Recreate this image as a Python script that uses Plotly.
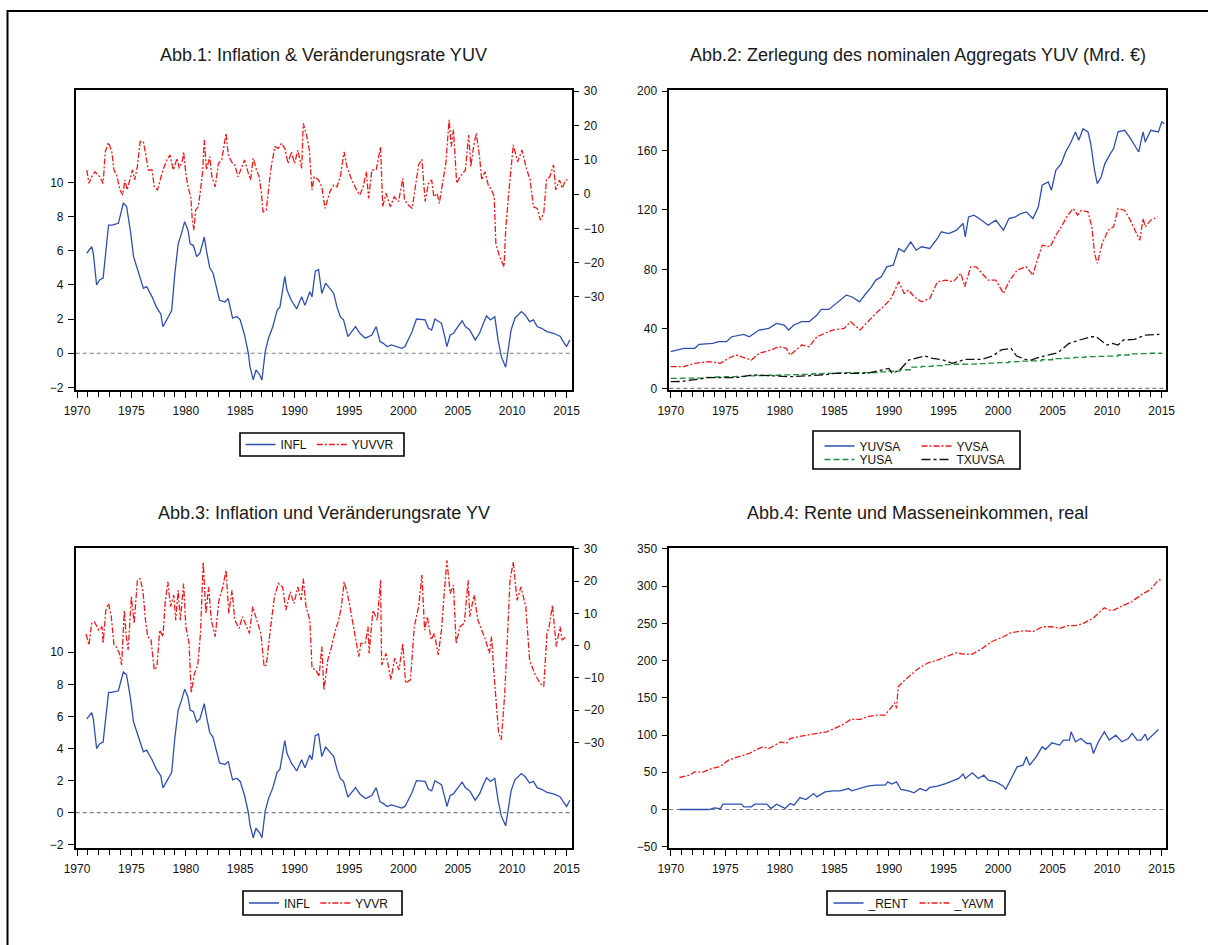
import plotly.graph_objects as go

# ---------------- data ----------------
infl_t = [1970.9, 1971.35, 1971.5, 1971.8, 1972.1, 1972.4, 1972.9, 1973.2, 1973.8, 1974.26,
          1974.55, 1974.9, 1975.2, 1975.6, 1976.1, 1976.4, 1976.9, 1977.3, 1977.7, 1977.9,
          1978.4, 1978.7, 1979.0, 1979.3, 1979.6, 1979.9, 1980.2, 1980.4, 1980.7, 1981.0,
          1981.3, 1981.7, 1981.9, 1982.2, 1982.5, 1982.8, 1983.1, 1983.6, 1983.9, 1984.3,
          1984.7, 1985.0, 1985.4, 1985.75, 1985.9, 1986.2, 1986.45, 1986.8, 1987.0, 1987.3,
          1987.6, 1988.0, 1988.4, 1988.65, 1989.1, 1989.3, 1989.7, 1990.2, 1990.65, 1990.95,
          1991.4, 1991.6, 1991.9, 1992.2, 1992.5, 1992.85, 1993.25, 1993.6, 1993.9, 1994.2,
          1994.5, 1994.9, 1995.25, 1995.6, 1996.0, 1996.5, 1996.8, 1997.1, 1997.5, 1997.85,
          1998.15, 1998.5, 1998.9, 1999.4, 1999.85, 2000.15, 2000.45, 2000.8, 2001.2, 2001.7,
          2002.0, 2002.3, 2002.6, 2002.9, 2003.2, 2003.5, 2003.8, 2004.0, 2004.3, 2004.6,
          2004.9, 2005.4, 2005.7, 2006.1, 2006.6, 2007.0, 2007.35, 2007.65, 2008.0, 2008.4,
          2008.7, 2009.0, 2009.4, 2009.6, 2009.9, 2010.25, 2010.55, 2010.85, 2011.2, 2011.6,
          2011.95, 2012.3, 2012.7, 2013.2, 2013.8, 2014.4, 2014.7, 2015.0, 2015.3]
infl_v = [5.85, 6.24, 5.85, 4.0, 4.3, 4.4, 7.5, 7.5, 7.6, 8.77,
          8.6, 7.2, 5.65, 4.8, 3.8, 3.9, 3.3, 2.7, 2.3, 1.55,
          2.15, 2.5, 4.7, 6.4, 7.0, 7.7, 7.2, 6.4, 6.3, 5.65,
          5.85, 6.8, 6.0, 5.0, 4.7, 3.9, 3.1, 3.0, 3.2, 2.05,
          2.15, 1.95, 1.07, 0.0, -0.78, -1.56, -0.97, -1.27, -1.56, 0.1,
          0.88, 1.56, 2.53, 2.7, 4.5, 3.7, 3.1, 2.6, 3.3, 2.8,
          3.6, 3.3, 4.8, 4.9, 3.5, 4.1, 3.8, 3.5, 2.7, 2.14,
          1.95, 0.97, 1.27, 1.56, 1.17, 0.88, 0.97, 1.07, 1.56, 0.68,
          0.58, 0.39, 0.49, 0.39, 0.29, 0.39, 0.78, 1.27, 2.0, 1.95,
          1.95, 1.46, 1.36, 2.0, 1.85, 1.75, 0.97, 0.39, 1.07, 1.17,
          1.46, 1.9, 1.56, 1.36, 0.78, 1.17, 1.75, 2.18, 1.95, 2.14,
          0.78, -0.2, -0.82, 0.0, 1.36, 2.05, 2.24, 2.44, 2.24, 1.85,
          1.95, 1.56, 1.46, 1.27, 1.17, 1.0, 0.68, 0.39, 0.78]

yuvvr_t = [1970.9, 1971.1, 1971.35, 1971.65, 1972.1, 1972.4, 1972.6, 1972.9, 1973.2, 1973.4,
           1973.65, 1973.95, 1974.2, 1974.4, 1974.6, 1974.9, 1975.1, 1975.3, 1975.55, 1975.8,
           1976.1, 1976.35, 1976.55, 1976.9, 1977.1, 1977.4, 1977.7, 1977.9, 1978.25, 1978.55,
           1978.85, 1979.2, 1979.4, 1979.7, 1979.8, 1980.0, 1980.2, 1980.45, 1980.6, 1980.75,
           1980.9, 1981.15, 1981.35, 1981.55, 1981.7, 1981.9, 1982.2, 1982.4, 1982.7, 1983.0,
           1983.3, 1983.5, 1983.7, 1983.9, 1984.2, 1984.5, 1984.8, 1985.1, 1985.4, 1985.75,
           1985.95, 1986.2, 1986.5, 1986.75, 1986.95, 1987.1, 1987.4, 1987.7, 1987.9, 1988.2,
           1988.5, 1988.8, 1989.1, 1989.4, 1989.7, 1990.0, 1990.3, 1990.65, 1990.8, 1991.1,
           1991.35, 1991.6, 1991.8, 1992.2, 1992.5, 1992.8, 1993.25, 1993.6, 1993.9, 1994.2,
           1994.55, 1994.8, 1995.25, 1995.7, 1996.0, 1996.3, 1996.6, 1996.8, 1997.1, 1997.5,
           1997.7, 1997.9, 1998.1, 1998.4, 1998.8, 1999.15, 1999.55, 1999.95, 2000.1, 2000.45,
           2000.8, 2001.1, 2001.4, 2001.7, 2002.0, 2002.3, 2002.6, 2002.8, 2003.1, 2003.3,
           2003.6, 2003.9, 2004.2, 2004.4, 2004.6, 2004.9, 2005.2, 2005.7, 2006.0, 2006.2,
           2006.45, 2006.7, 2007.0, 2007.2, 2007.5, 2007.8, 2008.1, 2008.35, 2008.5, 2008.8,
           2009.25, 2009.4, 2009.65, 2009.85, 2010.1, 2010.5, 2010.9, 2011.3, 2011.65, 2011.95,
           2012.3, 2012.6, 2012.9, 2013.15, 2013.45, 2013.8, 2014.0, 2014.35, 2014.6, 2014.9,
           2015.15]
yuvvr_v = [7.0, 3.1, 5.0, 6.5, 5.0, 3.1, 12.3, 15.0, 12.3, 7.0,
           5.5, 1.2, -0.3, 4.1, 1.2, 5.0, 7.0, 4.1, 8.0, 15.3,
           15.3, 10.9, 7.0, 7.0, 2.1, 1.2, 5.0, 7.0, 9.9, 11.4,
           7.0, 10.4, 7.5, 9.9, 12.3, 6.0, 2.1, -0.8, -7.6, -10.5,
           -4.7, -3.7, 1.2, 6.5, 15.7, 7.0, 10.9, 5.0, 2.1, 8.9,
           9.9, 13.8, 17.7, 11.4, 9.4, 8.5, 5.0, 7.5, 9.9, 6.0,
           4.1, 10.4, 7.0, 5.0, 0.2, -5.2, -4.7, 4.1, 8.9, 13.8,
           13.3, 14.8, 13.3, 8.9, 12.3, 8.9, 12.8, 7.5, 20.6, 17.2,
           12.8, 1.2, 5.0, 4.1, 2.1, -4.2, 0.7, 2.6, 2.1, 5.0,
           12.3, 8.0, 4.1, 1.2, -0.3, 2.1, 6.5, -1.3, 7.0, 7.0,
           10.4, 13.8, -3.7, 0.2, -3.7, -0.8, -2.2, 4.6, -1.7, -3.2,
           -4.2, 2.1, 8.5, 10.1, -2.2, 3.1, 4.1, -0.8, 0.2, -2.7,
           3.1, 8.9, 21.6, 13.8, 18.7, 3.1, 5.0, 7.0, 17.2, 8.0,
           13.8, 17.7, 10.9, 4.1, 6.5, 2.6, 1.2, -0.8, -14.4, -17.8,
           -21.2, -10.5, -0.8, 7.0, 14.3, 9.4, 12.8, 7.5, 4.1, -3.7,
           -4.2, -7.6, -5.6, 4.1, 5.0, 8.5, 1.2, 4.1, 1.7, 4.1,
           4.1]

yvvr_t = [1970.83, 1971.1, 1971.35, 1971.6, 1972.0, 1972.3, 1972.4, 1972.65, 1972.9, 1973.15,
          1973.4, 1973.6, 1973.9, 1974.1, 1974.35, 1974.5, 1974.7, 1975.0, 1975.25, 1975.55,
          1975.8, 1976.05, 1976.3, 1976.5, 1976.8, 1977.1, 1977.35, 1977.6, 1977.9, 1978.1,
          1978.35, 1978.6, 1978.9, 1979.07, 1979.3, 1979.5, 1979.8, 1980.0, 1980.3, 1980.5,
          1980.8, 1981.1, 1981.35, 1981.6, 1981.85, 1982.1, 1982.35, 1982.7, 1983.05, 1983.4,
          1983.7, 1983.95, 1984.25, 1984.5, 1984.9, 1985.2, 1985.6, 1985.85, 1986.15, 1986.5,
          1986.9, 1987.2, 1987.4, 1987.8, 1988.15, 1988.5, 1988.9, 1989.2, 1989.6, 1989.95,
          1990.3, 1990.6, 1990.8, 1991.05, 1991.4, 1991.6, 1991.95, 1992.25, 1992.5, 1992.7,
          1993.05, 1993.4, 1993.75, 1994.05, 1994.3, 1994.55, 1994.85, 1995.2, 1995.6, 1995.9,
          1996.1, 1996.5, 1996.75, 1996.85, 1997.2, 1997.6, 1997.9, 1998.0, 1998.4, 1998.85,
          1999.2, 1999.6, 1999.95, 2000.2, 2000.65, 2001.0, 2001.4, 2001.7, 2001.95, 2002.2,
          2002.55, 2002.85, 2003.2, 2003.5, 2003.75, 2004.0, 2004.3, 2004.6, 2004.85, 2005.2,
          2005.6, 2005.95, 2006.1, 2006.5, 2006.85, 2007.2, 2007.55, 2007.9, 2008.1, 2008.3,
          2008.5, 2008.75, 2009.0, 2009.3, 2009.55, 2009.8, 2010.1, 2010.45, 2010.8, 2011.25,
          2011.6, 2012.05, 2012.55, 2012.9, 2013.2, 2013.4, 2013.7, 2014.05, 2014.4, 2014.6,
          2015.0]
yvvr_v = [3.6, 0.2, 6.9, 7.4, 4.8, 5.9, 0.7, 11.0, 13.1, 9.0,
          0.2, -0.3, -2.4, -6.0, 11.0, 3.8, -1.3, 15.2, 6.9, 20.3,
          20.8, 17.2, 7.9, 2.8, 1.8, -7.5, -6.5, 4.8, 2.8, 13.1,
          19.8, 12.1, 15.7, 7.9, 17.2, 7.9, 19.3, 5.9, 0.7, -14.7,
          -8.6, -6.0, 3.8, 26.0, 10.0, 18.2, 7.9, 2.8, 14.1, 18.2,
          23.4, 10.0, 17.2, 7.9, 5.4, 9.0, 5.9, 3.8, 12.1, 7.9,
          3.8, -6.5, -6.0, 5.9, 15.2, 19.3, 18.2, 11.0, 16.7, 13.1,
          18.2, 14.1, 20.8, 12.1, 7.9, -7.0, -7.5, -9.6, -0.3, -13.7,
          -4.4, -0.3, 4.8, 7.9, 12.1, 19.8, 16.2, 10.0, 2.8, -3.4,
          0.7, 0.7, 5.9, -2.4, 11.0, 7.9, 20.3, -6.0, -2.4, -10.6,
          -3.9, -7.5, 0.7, -11.6, -10.6, 5.9, 12.1, 21.9, 4.8, 9.0,
          1.8, 3.8, -2.9, 4.8, 16.2, 26.5, 16.2, 18.8, 0.7, 5.9,
          6.9, 20.3, 9.0, 15.7, 7.9, 4.8, 1.8, -2.4, 2.8, -7.5,
          -16.8, -27.1, -29.2, -15.8, 1.8, 20.3, 26.0, 14.1, 18.2, 12.1,
          -4.4, -8.6, -11.6, -12.7, 3.8, 5.9, 12.6, -0.3, 5.9, 1.8,
          2.8]

yuvsa_t = [1970.0, 1970.6, 1971.2, 1972.2, 1972.6, 1973.85, 1974.4, 1975.1, 1975.6, 1976.7,
           1977.2, 1978.1, 1979.0, 1979.7, 1980.4, 1980.8, 1981.3, 1982.0, 1982.7, 1983.4,
           1983.8, 1984.5, 1985.0, 1985.6, 1986.1, 1986.6, 1987.3, 1987.9, 1988.4, 1988.8,
           1989.3, 1989.8, 1990.4, 1990.9, 1991.4, 1992.0, 1992.5, 1993.0, 1993.75, 1994.45,
           1994.8, 1995.5, 1996.2, 1996.8, 1997.0, 1997.3, 1997.8, 1998.5, 1999.1, 1999.8,
           2000.5, 2001.0, 2001.6, 2002.1, 2002.6, 2003.2, 2003.7, 2004.05, 2004.6, 2004.9,
           2005.3, 2005.8, 2006.2, 2006.7, 2007.1, 2007.4, 2007.8, 2008.25, 2008.5, 2008.85,
           2009.1, 2009.45, 2009.8, 2010.3, 2010.6, 2011.0, 2011.6, 2012.05, 2012.6, 2012.9,
           2013.3, 2013.5, 2014.0, 2014.7, 2015.0, 2015.25]
yuvsa_v = [24.6, 25.8, 26.9, 26.9, 29.6, 30.2, 31.4, 31.4, 34.7, 36.3,
           34.7, 39.2, 40.3, 43.7, 42.6, 39.2, 42.6, 44.8, 44.8, 49.3,
           53.1, 53.1, 56.0, 59.3, 62.7, 61.6, 58.2, 63.8, 68.3, 72.8,
           75.0, 81.7, 82.9, 94.1, 91.8, 98.5, 92.9, 95.2, 94.1, 100.8,
           105.3, 104.1, 106.4, 110.9, 101.9, 115.3, 116.5, 113.1, 109.7, 113.1,
           106.4, 114.2, 115.3, 117.6, 118.7, 114.2, 122.1, 136.6, 138.9, 133.3,
           146.7, 151.2, 159.0, 165.7, 172.5, 166.9, 174.7, 172.5, 164.6, 146.7,
           137.7, 142.2, 151.2, 157.9, 161.3, 172.5, 173.6, 169.1, 162.4, 159.0,
           172.5, 165.7, 173.6, 172.5, 179.2, 178.1]

yvsa_t = [1970.0, 1971.2, 1972.2, 1973.5, 1974.55, 1975.3, 1976.0, 1976.9, 1977.4, 1978.1,
          1979.2, 1979.9, 1980.6, 1980.95, 1981.5, 1982.0, 1982.7, 1983.4, 1984.15, 1984.85,
          1985.9, 1986.5, 1987.35, 1988.05, 1988.8, 1989.5, 1990.2, 1990.9, 1991.4, 1991.8,
          1992.3, 1993.0, 1993.75, 1994.45, 1995.2, 1995.9, 1996.6, 1996.95, 1997.5, 1998.0,
          1998.7, 1999.1, 1999.8, 2000.5, 2001.0, 2001.75, 2002.6, 2003.2, 2003.5, 2004.05,
          2004.8, 2005.3, 2005.8, 2006.4, 2006.9, 2007.3, 2007.65, 2008.25, 2008.6, 2008.85,
          2009.1, 2009.55, 2010.1, 2010.6, 2011.0, 2011.6, 2012.05, 2012.6, 2013.0, 2013.3,
          2013.5, 2014.0, 2014.65]
yvsa_v = [14.6, 14.6, 16.8, 17.9, 16.8, 20.2, 22.4, 20.2, 19.0, 23.5,
          25.8, 28.0, 26.9, 22.4, 25.8, 29.1, 28.0, 34.7, 37.0, 39.2,
          40.3, 44.8, 39.2, 44.8, 50.4, 54.9, 60.5, 71.7, 63.8, 66.1,
          61.6, 58.2, 60.5, 71.7, 72.8, 71.7, 77.3, 68.3, 81.7, 81.7,
          76.1, 72.8, 72.8, 63.8, 71.7, 79.5, 81.7, 76.1, 84.0, 96.3,
          95.2, 103.0, 108.6, 116.5, 120.9, 116.5, 119.8, 118.7, 108.6, 90.7,
          84.0, 97.4, 106.4, 108.6, 120.9, 119.8, 114.2, 106.4, 99.7, 114.2,
          108.6, 113.1, 115.3]

yusa_t = [1970, 1971, 1972, 1973, 1974, 1975, 1976, 1977, 1978, 1979,
          1980, 1981, 1982, 1983, 1984, 1985, 1986, 1987, 1988, 1989,
          1990, 1991, 1992, 1993, 1994, 1995, 1996, 1997, 1998, 1999,
          2000, 2001, 2002, 2003, 2004, 2005, 2006, 2007, 2008, 2009,
          2010, 2011, 2012, 2013, 2014, 2015]
yusa_v = [6.7, 6.8, 6.9, 7.3, 7.6, 7.8, 8.0, 8.3, 8.6, 8.8,
          9.0, 9.2, 9.4, 9.8, 10.1, 10.4, 10.6, 10.5, 10.6, 11.0,
          11.6, 12.5, 14.2, 14.8, 15.3, 15.9, 16.2, 16.3, 16.6, 17.0,
          17.3, 17.9, 18.3, 18.5, 19.2, 20.0, 20.3, 20.8, 21.3, 21.5,
          21.6, 22.4, 23.2, 23.4, 23.6, 23.8]

txuvsa_t = [1970.0, 1971.0, 1972.0, 1973.5, 1976.0, 1977.5, 1979.0, 1981.0, 1984.0, 1985.0,
            1988.0, 1989.3, 1990.0, 1990.3, 1991.0, 1991.8, 1992.5, 1993.3, 1994.0, 1995.0,
            1995.8, 1997.0, 1998.5, 1999.5, 2000.3, 2001.2, 2001.7, 2002.5, 2003.0, 2004.0,
            2005.5, 2006.5, 2007.5, 2008.5, 2009.0, 2010.0, 2010.5, 2011.0, 2011.5, 2012.5,
            2013.5, 2014.8]
txuvsa_v = [4.5, 4.6, 5.6, 7.2, 7.2, 9.0, 8.5, 7.8, 9.0, 10.1,
            10.1, 12.3, 13.4, 10.1, 12.3, 19.0, 20.2, 21.7, 20.2, 19.0,
            16.8, 19.5, 19.5, 21.7, 25.8, 26.9, 21.7, 19.5, 19.0, 21.3,
            24.0, 30.2, 32.5, 34.7, 34.7, 29.1, 30.2, 29.1, 32.5, 32.9,
            35.8, 36.3]

rent_t = [1970.8, 1973.5, 1974.0, 1974.55, 1974.8, 1976.5, 1976.7, 1977.4, 1977.7, 1978.8,
          1979.2, 1979.7, 1980.2, 1980.5, 1980.95, 1981.3, 1981.85, 1982.4, 1983.1, 1983.4,
          1984.15, 1984.85, 1985.55, 1986.3, 1986.6, 1987.35, 1988.05, 1988.8, 1989.65, 1989.9,
          1990.25, 1990.7, 1991.1, 1991.8, 1992.3, 1992.85, 1993.4, 1993.75, 1994.45, 1995.2,
          1995.9, 1996.4, 1996.8, 1997.0, 1997.65, 1998.2, 1998.7, 1999.1, 1999.8, 2000.5,
          2000.7, 2001.2, 2001.75, 2002.3, 2002.6, 2002.9, 2003.5, 2004.05, 2004.35, 2004.95,
          2005.65, 2006.0, 2006.55, 2006.7, 2007.1, 2007.6, 2008.15, 2008.5, 2008.75, 2009.2,
          2009.75, 2010.2, 2010.8, 2011.35, 2011.95, 2012.3, 2012.75, 2013.1, 2013.5, 2013.7,
          2014.2, 2014.7]
rent_v = [0.0, 0.0, 2.2, 1.3, 7.2, 7.2, 3.6, 3.6, 7.2, 7.2,
          1.3, 7.2, 3.6, 1.3, 8.1, 5.8, 16.1, 13.4, 21.5, 17.0,
          23.7, 25.1, 25.1, 28.2, 25.1, 28.2, 31.4, 32.7, 32.7, 37.2,
          34.1, 37.2, 26.9, 25.1, 22.4, 28.2, 25.1, 29.6, 31.4, 34.9,
          39.4, 41.7, 47.5, 41.7, 49.3, 41.7, 46.1, 39.4, 37.2, 31.4,
          26.9, 41.7, 57.3, 59.6, 70.8, 59.6, 70.8, 84.2, 80.6, 89.6,
          86.5, 93.2, 93.2, 104.4, 91.0, 95.4, 88.7, 88.7, 75.3, 91.0,
          104.4, 93.2, 99.9, 91.0, 95.4, 102.2, 93.2, 93.2, 101.3, 93.2,
          99.9, 107.5]

yavm_t = [1970.8, 1971.7, 1972.2, 1972.95, 1973.8, 1974.4, 1974.7, 1975.3, 1976.0, 1976.7,
          1977.2, 1977.75, 1978.45, 1979.0, 1979.5, 1980.1, 1980.6, 1980.95, 1981.65, 1982.4,
          1983.4, 1984.3, 1985.0, 1985.7, 1986.5, 1987.35, 1988.05, 1988.8, 1989.65, 1990.0,
          1990.55, 1990.7, 1990.85, 1991.45, 1992.0, 1992.7, 1993.6, 1994.45, 1995.2, 1996.2,
          1996.8, 1997.65, 1998.55, 1999.4, 2000.5, 2001.2, 2002.1, 2002.6, 2003.2, 2004.05,
          2004.95, 2005.65, 2006.4, 2007.1, 2007.8, 2008.7, 2009.4, 2009.75, 2010.1, 2010.6,
          2011.35, 2012.25, 2013.1, 2014.0, 2014.7, 2015.05]
yavm_v = [43.0, 46.1, 50.6, 50.2, 55.1, 57.3, 59.6, 66.3, 69.9, 73.0,
          75.3, 79.7, 84.2, 82.0, 86.5, 90.9, 88.7, 95.4, 97.7, 99.9,
          102.2, 104.4, 108.9, 113.4, 121.0, 121.0, 124.6, 126.8, 126.8, 133.5,
          143.4, 135.8, 164.9, 173.8, 180.6, 189.5, 197.1, 200.7, 205.2, 210.6,
          208.8, 208.8, 216.4, 225.4, 232.1, 237.5, 239.7, 240.1, 238.8, 245.5,
          245.5, 243.3, 246.9, 246.9, 250.0, 256.7, 266.6, 271.1, 267.9, 267.9,
          273.3, 279.1, 288.1, 295.7, 308.2, 309.1]

titles = ["Abb.1: Inflation & Veränderungsrate YUV",
          "Abb.2: Zerlegung des nominalen Aggregats YUV (Mrd. €)",
          "Abb.3: Inflation und Veränderungsrate YV",
          "Abb.4: Rente und Masseneinkommen, real"]
infl_ticks = [-2, 0, 2, 4, 6, 8, 10]
rate_ticks = [-30, -20, -10, 0, 10, 20, 30]

# ---------------- styling ----------------
W, H = 1208, 945
FONT = "Arial, Liberation Sans, sans-serif"
BLUE = "#2F4FB0"
RED = "#F01A1A"
GREEN = "#1E8C3C"
BLACK = "#111111"
RED_DASH = "6px,2px,2px,2px"
BLK_DASH = "9px,3px,3px,3px"
GRN_DASH = "6px,3px"
LW = 1.3

def px_x(p):
    return p / W

def px_y(p):
    return 1 - p / H

col1 = [px_x(75.7), px_x(571.7)]
col2 = [px_x(669.3), px_x(1166)]
row1 = [px_y(390), px_y(90)]
row2 = [px_y(848), px_y(548)]

fig = go.Figure()

def line(x, y, name, color, dash, xa, ya, legend):
    fig.add_trace(go.Scatter(x=x, y=y, name=name, mode="lines", xaxis=xa, yaxis=ya,
                             line=dict(color=color, width=LW, dash=dash), legend=legend))

line(infl_t, infl_v, "INFL", BLUE, "solid", "x", "y", "legend")
line(yuvvr_t, yuvvr_v, "YUVVR", RED, RED_DASH, "x", "y2", "legend")
line(yuvsa_t, yuvsa_v, "YUVSA", BLUE, "solid", "x2", "y3", "legend2")
line(yvsa_t, yvsa_v, "YVSA", RED, RED_DASH, "x2", "y3", "legend2")
fig.add_trace(go.Scatter(x=yusa_t, y=yusa_v, name="YUSA", mode="lines", xaxis="x2", yaxis="y3",
                         line=dict(color=GREEN, width=LW, dash=GRN_DASH, shape="hv"), legend="legend3"))
line(txuvsa_t, txuvsa_v, "TXUVSA", BLACK, BLK_DASH, "x2", "y3", "legend3")
line(infl_t, infl_v, "INFL", BLUE, "solid", "x3", "y4", "legend4")
line(yvvr_t, yvvr_v, "YVVR", RED, RED_DASH, "x3", "y5", "legend4")
line(rent_t, rent_v, "_RENT", BLUE, "solid", "x4", "y6", "legend5")
line(yavm_t, yavm_v, "_YAVM", RED, RED_DASH, "x4", "y6", "legend5")

tickfont = dict(family=FONT, size=12, color="#111")

def xax(domain, anchor, rng):
    return dict(domain=domain, anchor=anchor, range=rng, tickmode="linear", tick0=1970, dtick=5,
                ticks="outside", ticklen=6, tickwidth=1.2, tickcolor="black",
                minor=dict(ticks="outside", dtick=1, tick0=1970, ticklen=5, tickwidth=1.2, tickcolor="black"),
                showline=True, linecolor="black", linewidth=1.5, mirror=True,
                showgrid=False, zeroline=False, tickfont=tickfont, ticklabelstandoff=3,
                automargin=False)

def yax(domain, anchor, rng, tickvals, side="left", overlaying=None, mirror=True):
    d = dict(domain=domain, anchor=anchor, range=rng, tickmode="array", tickvals=tickvals,
             ticks="outside", ticklen=6, tickwidth=1.2, tickcolor="black",
             showline=True, linecolor="black", linewidth=1.5, mirror=mirror, side=side,
             showgrid=False, zeroline=False, tickfont=tickfont, ticklabelstandoff=2,
             automargin=False)
    if overlaying:
        d["overlaying"] = overlaying
    return d

x_rng1 = [1969.88, 2015.47]
x_rng2 = [1969.87, 2015.4]

fig.update_layout(
    xaxis=xax(col1, "y", x_rng1),
    yaxis=yax(row1, "x", [-2.15, 15.4], infl_ticks),
    yaxis2=yax(row1, "x", [-57.1, 30.3], rate_ticks, side="right", overlaying="y", mirror=False),
    xaxis2=xax(col2, "y3", x_rng2),
    yaxis3=yax(row1, "x2", [-1.14, 200.7], [0, 40, 80, 120, 160, 200]),
    xaxis3=xax(col1, "y4", x_rng1),
    yaxis4=yax(row2, "x3", [-2.2, 16.5], infl_ticks),
    yaxis5=yax(row2, "x3", [-62.8, 30.3], rate_ticks, side="right", overlaying="y4", mirror=False),
    xaxis4=xax(col2, "y6", x_rng2),
    yaxis6=yax(row2, "x4", [-51.7, 351.3], [-50, 0, 50, 100, 150, 200, 250, 300, 350]),
)

# zero reference lines
for xr, yr in [("x", "y"), ("x2", "y3"), ("x3", "y4"), ("x4", "y6")]:
    fig.add_shape(type="line", xref=f"{xr} domain", yref=yr, x0=0, x1=1, y0=0, y1=0,
                  line=dict(color="#808080", width=1.2, dash="4px,3px"), layer="below")

# outer frame
fig.add_shape(type="rect", xref="paper", yref="paper", x0=px_x(7.5), x1=1.05, y0=-0.05, y1=px_y(11),
              line=dict(color="black", width=2))

# titles
centers = [(col1[0] + col1[1]) / 2, (col2[0] + col2[1]) / 2]
for i, t in enumerate(titles):
    cx = centers[i % 2]
    cy = px_y(55) if i < 2 else px_y(513)
    fig.add_annotation(text=t, x=cx, y=cy, xref="paper", yref="paper", showarrow=False,
                       xanchor="center", yanchor="middle", font=dict(family=FONT, size=18, color="#1a1a1a"))

legfont = dict(family=FONT, size=12, color="#111")
def leg(x, y, entrywidth=None):
    d = dict(orientation="h", x=x, y=y, xanchor="center", yanchor="middle", font=legfont,
             bgcolor="rgba(255,255,255,0)", borderwidth=0, itemwidth=30, tracegroupgap=0)
    if entrywidth:
        d["entrywidth"] = entrywidth
        d["entrywidthmode"] = "pixels"
    return d

fig.update_layout(
    legend=leg(px_x(320), px_y(444.5)),
    legend2=leg(px_x(916.5), px_y(446), entrywidth=52),
    legend3=leg(px_x(916.5), px_y(459.5), entrywidth=52),
    legend4=leg(px_x(319), px_y(903)),
    legend5=leg(px_x(914), px_y(903)),
)

# legend frames
legend_boxes = [(240, 404, 433, 456), (813, 1020, 431, 469), (243, 402, 891, 915), (827, 1005, 891, 915)]
for x0, x1, y0, y1 in legend_boxes:
    fig.add_shape(type="rect", xref="paper", yref="paper", x0=px_x(x0), x1=px_x(x1),
                  y0=px_y(y1), y1=px_y(y0), line=dict(color="black", width=1.6))

fig.update_layout(width=W, height=H, margin=dict(l=0, r=0, t=0, b=0, autoexpand=False),
                  paper_bgcolor="white", plot_bgcolor="white", showlegend=True,
                  font=dict(family=FONT, color="#111"))

fig.write_html("out.html",
               post_script="document.body.style.margin='0';document.body.style.padding='0';")
